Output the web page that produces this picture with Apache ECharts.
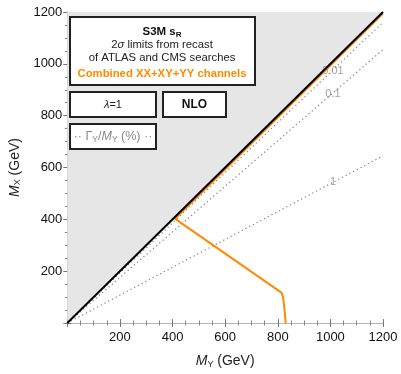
<!DOCTYPE html>
<html>
<head>
<meta charset="utf-8">
<script src="https://cdn.jsdelivr.net/npm/echarts@6/dist/echarts.min.js"></script>
<style>
html, body { margin: 0; padding: 0; background: #fff; }
#chart { width: 401px; height: 374px; }
</style>
</head>
<body>
<div id="chart"></div>
<script>
// Mass range shown on both axes (GeV)
const axisMin = 0;
const axisMax = 1200;
const axisStep = 200;

// Kinematic boundary M_X = M_Y and the shaded forbidden region above it
const diagonal = [[0, 0], [1200, 1200]];
const forbiddenRegion = [[0, 0], [1200, 1200], [0, 1200]];

// Combined XX+XY+YY 2σ exclusion contour
const combinedLimit = [[1200, 1194], [410, 402], [814, 117], [820, 100], [825, 60], [830, 0]];

// Width-over-mass contours Γ_Y/M_Y (%)
const widthNames = ['0.01', '0.1', '1'];
const width001 = [[0, 0], [1200, 1160]];
const width01 = [[0, 0], [1200, 1055]];
const width1 = [[0, 0], [1200, 645]];
const widthLabelPos = [[1010, 972], [1010, 885], [1010, 543]];

const FONT = '"Liberation Sans", Arial, sans-serif';

const chart = echarts.init(document.getElementById('chart'));

function contour(data) {
  return {
    type: 'line', data: data, symbol: 'none', silent: true,
    lineStyle: { color: '#808080', width: 1.2, type: [1.2, 3] }, z: 3
  };
}

const frameAxis = {
  min: axisMin, max: axisMax, interval: axisStep,
  axisLine: { show: true, lineStyle: { color: '#b4b4b4', width: 1 } },
  axisTick: { show: true, inside: true, length: 4, interval: 0, lineStyle: { color: '#777' } },
  minorTick: { show: true, splitNumber: 4, length: 2.5, lineStyle: { color: '#888' } },
  splitLine: { show: false }
};

function tickLabel(v) { return v === 0 ? '' : String(v); }

const axisNameStyle = {
  fontSize: 14, fontFamily: FONT, color: '#222',
  rich: {
    i: { fontSize: 14, fontStyle: 'italic', fontFamily: FONT, color: '#222' },
    s: { fontSize: 9, fontFamily: FONT, color: '#222', padding: [6, 0, 0, 0] }
  }
};

chart.setOption({
  animation: false,
  backgroundColor: '#fff',
  grid: { left: 63, right: 18, top: 12, bottom: 43 },
  xAxis: [
    Object.assign({}, frameAxis, {
      type: 'value', position: 'bottom',
      axisLabel: { formatter: tickLabel, color: '#111', fontSize: 13, fontFamily: FONT, margin: 8 },
      name: '{i|M}{s|Y} (GeV)', nameLocation: 'middle', nameGap: 31,
      nameTextStyle: axisNameStyle
    }),
    Object.assign({}, frameAxis, { type: 'value', position: 'top', axisLabel: { show: false } })
  ],
  yAxis: [
    Object.assign({}, frameAxis, {
      type: 'value', position: 'left',
      axisLabel: { formatter: tickLabel, color: '#111', fontSize: 13, fontFamily: FONT, margin: 5 },
      name: '{i|M}{s|X} (GeV)', nameLocation: 'middle', nameGap: 37,
      nameTextStyle: axisNameStyle
    }),
    Object.assign({}, frameAxis, { type: 'value', position: 'right', axisLabel: { show: false } })
  ],
  series: [
    {
      type: 'custom', silent: true, z: 1,
      data: [0],
      renderItem: function (params, api) {
        return {
          type: 'polygon',
          shape: { points: forbiddenRegion.map(function (p) { return api.coord(p); }) },
          style: { fill: '#e6e6e6' }
        };
      }
    },
    contour(width001),
    contour(width01),
    contour(width1),
    {
      type: 'scatter', silent: true, symbolSize: 0, z: 4,
      data: widthLabelPos.map(function (p, i) { return { value: p, name: widthNames[i] }; }),
      label: {
        show: true, position: 'inside', formatter: '{b}',
        color: '#8a8a8a', fontSize: 11, fontFamily: FONT
      }
    },
    {
      type: 'line', data: combinedLimit, symbol: 'none', silent: true, z: 5,
      lineStyle: { color: '#ff8a00', width: 2 }
    },
    {
      type: 'line', data: diagonal, symbol: 'none', silent: true, z: 6,
      lineStyle: { color: '#000', width: 2 }
    }
  ],
  graphic: [
    {
      type: 'rect', shape: { x: 70, y: 17, width: 185, height: 68 },
      style: { fill: '#fff', stroke: '#222', lineWidth: 2 }, z: 10
    },
    {
      type: 'text', x: 162, y: 26, z: 11,
      style: {
        text: '{b|S3M s}{bs|R}\n{n|2}{gi|σ}{n| limits from recast}\n{n|of ATLAS and CMS searches}\n{o|Combined XX+XY+YY channels}',
        align: 'center', verticalAlign: 'top',
        rich: {
          b: { fontSize: 11.5, fontWeight: 'bold', fontFamily: FONT, fill: '#111', lineHeight: 12.5 },
          bs: { fontSize: 8, fontWeight: 'bold', fontFamily: FONT, fill: '#111', lineHeight: 12.5, padding: [5, 0, 0, 0] },
          n: { fontSize: 11.3, fontFamily: FONT, fill: '#222', lineHeight: 12.8 },
          gi: { fontSize: 11.3, fontStyle: 'italic', fontFamily: FONT, fill: '#222', lineHeight: 12.8 },
          o: { fontSize: 11.3, fontWeight: 'bold', fontFamily: FONT, fill: '#ff8a00', lineHeight: 16, padding: [3, 0, 0, 0] }
        }
      }
    },
    {
      type: 'rect', shape: { x: 70, y: 92, width: 86, height: 25 },
      style: { fill: '#fff', stroke: '#222', lineWidth: 2 }, z: 10
    },
    {
      type: 'text', x: 113, y: 105, z: 11,
      style: {
        text: '{i|λ}{n|=1}', align: 'center', verticalAlign: 'middle',
        rich: {
          i: { fontSize: 11, fontStyle: 'italic', fontFamily: FONT, fill: '#222' },
          n: { fontSize: 11, fontFamily: FONT, fill: '#222' }
        }
      }
    },
    {
      type: 'rect', shape: { x: 163, y: 92, width: 63, height: 25 },
      style: { fill: '#fff', stroke: '#222', lineWidth: 2 }, z: 10
    },
    {
      type: 'text', x: 194.5, y: 105, z: 11,
      style: {
        text: 'NLO', align: 'center', verticalAlign: 'middle',
        fontSize: 12, fontWeight: 'bold', fontFamily: FONT, fill: '#111'
      }
    },
    {
      type: 'rect', shape: { x: 70, y: 124, width: 86, height: 25 },
      style: { fill: '#fff', stroke: '#222', lineWidth: 2 }, z: 10
    },
    {
      type: 'text', x: 113, y: 137, z: 11,
      style: {
        text: '{n|·· Γ}{s|Y}{n|/}{i|M}{s|Y}{n| (%) ··}', align: 'center', verticalAlign: 'middle',
        rich: {
          n: { fontSize: 12.5, fontFamily: FONT, fill: '#8a8a8a' },
          i: { fontSize: 12.5, fontStyle: 'italic', fontFamily: FONT, fill: '#8a8a8a' },
          s: { fontSize: 8.5, fontFamily: FONT, fill: '#8a8a8a', padding: [5, 0, 0, 0] }
        }
      }
    }
  ]
});
</script>
</body>
</html>
